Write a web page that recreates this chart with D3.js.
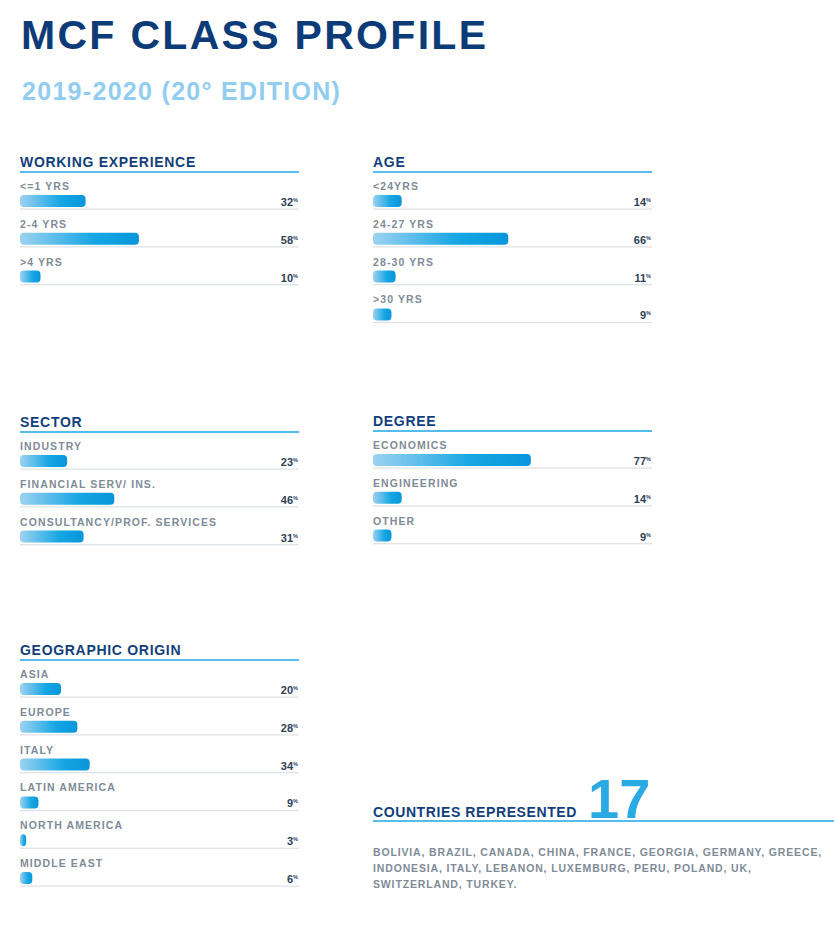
<!DOCTYPE html>
<html>
<head>
<meta charset="utf-8">
<script src="https://cdn.jsdelivr.net/npm/d3@7"></script>
<style>
  html, body { margin: 0; padding: 0; background: #ffffff; }
  svg { display: block; font-family: "Liberation Sans", Arial, sans-serif; }
</style>
</head>
<body>
<svg id="chart" width="834" height="932"></svg>
<script>
// ---- data ----
const titleText = "MCF CLASS PROFILE";
const subtitleText = "2019-2020 (20° EDITION)";

const workLabels = ["<=1 YRS", "2-4 YRS", ">4 YRS"];
const workValues = [32, 58, 10];

const ageLabels = ["<24YRS", "24-27 YRS", "28-30 YRS", ">30 YRS"];
const ageValues = [14, 66, 11, 9];

const sectorLabels = ["INDUSTRY", "FINANCIAL SERV/ INS.", "CONSULTANCY/PROF. SERVICES"];
const sectorValues = [23, 46, 31];

const degreeLabels = ["ECONOMICS", "ENGINEERING", "OTHER"];
const degreeValues = [77, 14, 9];

const geoLabels = ["ASIA", "EUROPE", "ITALY", "LATIN AMERICA", "NORTH AMERICA", "MIDDLE EAST"];
const geoValues = [20, 28, 34, 9, 3, 6];

const countriesCount = 17;
const countryLines = [
  "BOLIVIA, BRAZIL, CANADA, CHINA, FRANCE, GEORGIA, GERMANY, GREECE,",
  "INDONESIA, ITALY, LEBANON, LUXEMBURG, PERU, POLAND, UK,",
  "SWITZERLAND, TURKEY."
];

// ---- layout ----
const svg = d3.select("#chart");
const W = 834;
svg.append("rect").attr("width", W).attr("height", 932).attr("fill", "#ffffff");

const navy = "#123f7b";
const grayText = "#7f8b97";
const valueColor = "#2e3f58";
const headLine = "#55bdec";
const sepColor = "#dde1e6";

const defs = svg.append("defs");
const grad = defs.append("linearGradient").attr("id", "barGrad")
  .attr("x1", "0%").attr("x2", "100%").attr("y1", "0%").attr("y2", "0%");
grad.append("stop").attr("offset", "0%").attr("stop-color", "#9dd2f0");
grad.append("stop").attr("offset", "62%").attr("stop-color", "#16a6e4");
grad.append("stop").attr("offset", "100%").attr("stop-color", "#0796da");

svg.append("text")
  .attr("x", 21).attr("y", 49)
  .attr("font-size", 41).attr("font-weight", "bold")
  .attr("letter-spacing", 2.3)
  .attr("fill", "#0c3b77")
  .text(titleText);

svg.append("text")
  .attr("x", 22).attr("y", 100)
  .attr("font-size", 25).attr("font-weight", "bold")
  .attr("letter-spacing", 1.3)
  .attr("fill", "#92cdef")
  .text(subtitleText);

const panelW = 279;
const rowPitch = 37.8;
const x = d3.scaleLinear().domain([0, 100]).range([0, 205]);

function panel(px, H, title, labels, values) {
  const g = svg.append("g").attr("transform", `translate(${px},0)`);
  g.append("text")
    .attr("x", 0).attr("y", H - 5)
    .attr("font-size", 14).attr("font-weight", "bold")
    .attr("letter-spacing", 0.7)
    .attr("fill", navy)
    .text(title);
  g.append("rect")
    .attr("x", 0).attr("y", H - 1).attr("width", panelW).attr("height", 2)
    .attr("fill", headLine);

  const data = labels.map((l, i) => ({ label: l, value: values[i], i }));
  const rows = g.selectAll("g.row").data(data).enter().append("g")
    .attr("class", "row")
    .attr("transform", d => `translate(0,${H + d.i * rowPitch})`);

  rows.append("text")
    .attr("x", 0).attr("y", 18)
    .attr("font-size", 10.5).attr("font-weight", "bold")
    .attr("letter-spacing", 1.1)
    .attr("fill", grayText)
    .text(d => d.label);

  rows.append("rect")
    .attr("x", 0).attr("y", 23)
    .attr("width", d => x(d.value)).attr("height", 12)
    .attr("rx", d => Math.min(4, x(d.value) / 2)).attr("ry", 4)
    .attr("fill", "url(#barGrad)");

  rows.append("rect")
    .attr("x", 0).attr("y", 36.5).attr("width", panelW).attr("height", 1.2)
    .attr("fill", sepColor);

  const vt = rows.append("text")
    .attr("x", 278).attr("y", 34)
    .attr("text-anchor", "end")
    .attr("font-size", 11).attr("font-weight", "bold")
    .attr("fill", valueColor);
  vt.append("tspan").text(d => d.value);
  vt.append("tspan").attr("font-size", 5.5).attr("dy", -4).text("%");
}

panel(20, 172, "WORKING EXPERIENCE", workLabels, workValues);
panel(373, 172, "AGE", ageLabels, ageValues);
panel(20, 432, "SECTOR", sectorLabels, sectorValues);
panel(373, 431, "DEGREE", degreeLabels, degreeValues);
panel(20, 660, "GEOGRAPHIC ORIGIN", geoLabels, geoValues);

// countries represented
svg.append("text")
  .attr("x", 373).attr("y", 817)
  .attr("font-size", 14).attr("font-weight", "bold")
  .attr("letter-spacing", 0.6)
  .attr("fill", navy)
  .text("COUNTRIES REPRESENTED");

svg.append("text")
  .attr("x", 588).attr("y", 818)
  .attr("font-size", 56).attr("font-weight", "bold")
  .attr("fill", "#2aaae3")
  .text(countriesCount);

svg.append("rect")
  .attr("x", 373).attr("y", 820).attr("width", W - 373).attr("height", 2)
  .attr("fill", headLine);

svg.append("g").selectAll("text").data(countryLines).enter().append("text")
  .attr("x", 373).attr("y", (d, i) => 856 + i * 16)
  .attr("font-size", 10.5).attr("font-weight", "bold")
  .attr("letter-spacing", 0.85)
  .attr("fill", grayText)
  .text(d => d);
</script>
</body>
</html>
